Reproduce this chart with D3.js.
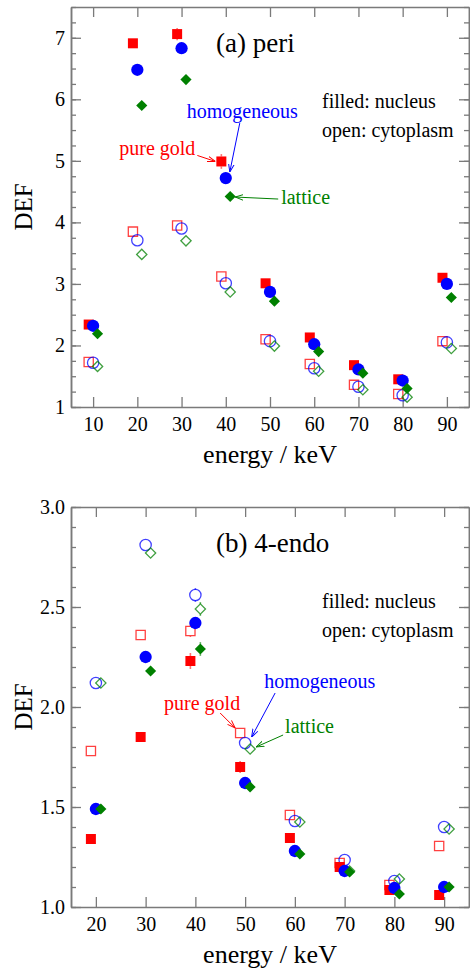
<!DOCTYPE html>
<html>
<head>
<meta charset="utf-8">
<script src="https://cdn.jsdelivr.net/npm/d3@7"></script>
<style>
  body { margin: 0; background: #fff; }
  svg { display: block; font-family: "Liberation Serif", "Times New Roman", serif; }
</style>
</head>
<body>
<svg id="chart" width="470" height="974"></svg>
<script>
// energies (keV)
var energiesPeri = [10, 20, 30, 40, 50, 60, 70, 80, 90];
var energiesEndo = [20, 30, 40, 50, 60, 70, 80, 90];

// (a) peri - nucleus (filled)
var periGoldNucleus = [2.34, 6.91, 7.06, 4.99, 3.01, 2.13, 1.68, 1.45, 3.10];
var periHomoNucleus = [2.32, 6.48, 6.83, 4.72, 2.87, 2.02, 1.61, 1.43, 3.00];
var periLatticeNucleus = [2.19, 5.90, 6.32, 4.42, 2.72, 1.90, 1.55, 1.30, 2.78];
// (a) peri - cytoplasm (open)
var periGoldCyto = [1.73, 3.85, 3.95, 3.12, 2.10, 1.70, 1.36, 1.21, 2.07];
var periHomoCyto = [1.72, 3.71, 3.90, 3.01, 2.07, 1.63, 1.33, 1.19, 2.05];
var periLatticeCyto = [1.66, 3.48, 3.70, 2.87, 1.99, 1.58, 1.28, 1.16, 1.95];

var periGoldNucleusErr = [0.03, 0.05, 0.10, 0.12, 0.06, 0.04, 0.03, 0.02, 0.05];
var periHomoNucleusErr = [0.02, 0.04, 0.06, 0.06, 0.04, 0.03, 0.02, 0.02, 0.04];
var periLatticeNucleusErr = [0.02, 0.04, 0.06, 0.06, 0.04, 0.03, 0.02, 0.02, 0.04];
var periCytoErr = [0.02, 0.03, 0.03, 0.03, 0.02, 0.02, 0.02, 0.01, 0.02];

// (b) 4-endo - nucleus (filled)
var endoGoldNucleus = [1.34, 1.85, 2.23, 1.70, 1.345, 1.20, 1.085, 1.06];
var endoHomoNucleus = [1.49, 2.25, 2.42, 1.62, 1.28, 1.18, 1.095, 1.10];
var endoLatticeNucleus = [1.49, 2.18, 2.29, 1.60, 1.265, 1.175, 1.065, 1.10];
// (b) 4-endo - cytoplasm (open)
var endoGoldCyto = [1.78, 2.36, 2.38, 1.87, 1.46, 1.22, 1.11, 1.305];
var endoHomoCyto = [2.12, 2.81, 2.56, 1.82, 1.43, 1.235, 1.13, 1.40];
var endoLatticeCyto = [2.12, 2.77, 2.49, 1.79, 1.425, 1.18, 1.14, 1.39];

var endoGoldNucleusErr = [0.01, 0.025, 0.04, 0.03, 0.025, 0.015, 0.015, 0.01];
var endoHomoNucleusErr = [0.01, 0.02, 0.03, 0.02, 0.015, 0.01, 0.01, 0.01];
var endoLatticeNucleusErr = [0.01, 0.025, 0.035, 0.02, 0.015, 0.01, 0.01, 0.01];
var endoGoldCytoErr = [0.01, 0.02, 0.03, 0.02, 0.015, 0.01, 0.01, 0.01];
var endoHomoCytoErr = [0.01, 0.02, 0.035, 0.02, 0.015, 0.01, 0.01, 0.01];
var endoLatticeCytoErr = [0.01, 0.02, 0.035, 0.02, 0.015, 0.01, 0.01, 0.01];

// ticks
var periXTicks = [10, 20, 30, 40, 50, 60, 70, 80, 90];
var periYTicks = [1, 2, 3, 4, 5, 6, 7];
var endoXTicks = [20, 30, 40, 50, 60, 70, 80, 90];
var endoYTicks = [1.0, 1.5, 2.0, 2.5, 3.0];

var RED = '#ff0000', BLUE = '#0000ff', GREEN = '#008000', AXIS = '#7a7a7a';
var LEFT = 71, RIGHT = 469;

var svg = d3.select('#chart');
var defs = svg.append('defs');
[['red', RED], ['blue', BLUE], ['green', GREEN]].forEach(function(c) {
  defs.append('marker')
    .attr('id', 'head-' + c[0])
    .attr('viewBox', '0 0 10 10')
    .attr('refX', 10).attr('refY', 5)
    .attr('markerWidth', 8).attr('markerHeight', 8)
    .attr('markerUnits', 'userSpaceOnUse')
    .attr('orient', 'auto')
    .append('path')
    .attr('d', 'M0,1.5 L10,5 L0,8.5')
    .attr('fill', 'none')
    .attr('stroke', c[1])
    .attr('stroke-width', 1.2);
});

function makeSeries(energies, gold, homo, lattice, errGold, errHomo, errLattice, filled) {
  return [
    { name: 'gold', energies: energies, values: gold, errors: errGold, color: RED, shape: 'square', dx: -1, filled: filled },
    { name: 'homo', energies: energies, values: homo, errors: errHomo, color: BLUE, shape: 'circle', dx: 0, filled: filled },
    { name: 'lattice', energies: energies, values: lattice, errors: errLattice, color: GREEN, shape: 'diamond', dx: 1, filled: filled }
  ];
}

var Panel = function(opts) {
  'use strict';
  this.opts = opts;
  this.init();
};

Panel.prototype = {
  init: function() {
    var o = this.opts;
    this.x = d3.scaleLinear().domain(o.xDomain).range([LEFT, RIGHT]);
    this.y = d3.scaleLinear().domain(o.yDomain).range([o.bottom, o.top]);
    this.main = svg.append('g');
    this.points = {};
  },

  render: function() {
    this.drawAxes();
    this.drawSeries();
    this.drawText();
    this.drawNotes();
  },

  styleAxis: function(g) {
    g.attr('font-family', null).attr('font-size', null);
    g.select('.domain').attr('stroke', AXIS).attr('stroke-width', 1.5);
    g.selectAll('.tick line').attr('stroke', AXIS).attr('stroke-width', 1.3);
    g.selectAll('.tick text').attr('fill', '#000').style('font-size', '20px');
  },

  drawAxes: function() {
    var o = this.opts, x = this.x, y = this.y, self = this;
    var minor = o.yMinor;

    var axes = [
      d3.axisLeft(y).tickValues(minor).tickSize(-5).tickSizeOuter(0).tickFormat(''),
      d3.axisRight(y).tickValues(minor).tickSize(-5).tickSizeOuter(0).tickFormat(''),
      d3.axisRight(y).tickValues(o.yTicks).tickSize(-10).tickSizeOuter(0).tickFormat(''),
      d3.axisTop(x).tickValues(o.xTicks).tickSize(-10).tickSizeOuter(0).tickFormat(''),
      d3.axisLeft(y).tickValues(o.yTicks).tickSize(-10).tickSizeOuter(0).tickPadding(6).tickFormat(o.yFormat),
      d3.axisBottom(x).tickValues(o.xTicks).tickSize(-10).tickSizeOuter(0).tickPadding(10)
    ];
    var shifts = [
      [LEFT, 0], [RIGHT, 0], [RIGHT, 0], [0, o.top], [LEFT, 0], [0, o.bottom]
    ];

    axes.forEach(function(axis, i) {
      var g = self.main.append('g')
        .attr('transform', 'translate(' + shifts[i][0] + ',' + shifts[i][1] + ')')
        .call(axis);
      self.styleAxis(g);
    });
  },

  symbolPath: function(s) {
    var size = { square: 100, circle: 118, diamond: 62 }[s.shape];
    if (!s.filled) size *= 0.85;
    var type = s.shape === 'circle' ? d3.symbolCircle : d3.symbolSquare;
    return d3.symbol().type(type).size(size)();
  },

  drawSeries: function() {
    var self = this;
    this.opts.series.forEach(function(s) {
      var pts = s.values.map(function(v, i) {
        return { e: s.energies[i] + s.dx, v: v, err: s.errors[i] };
      });
      self.points[s.name + (s.filled ? 'Filled' : 'Open')] = pts;

      // error bars, only the part sticking out of the marker
      var r = 5;
      var bars = [];
      pts.forEach(function(d) {
        var cx = self.x(d.e), cy = self.y(d.v);
        var up = self.y(d.v + d.err), down = self.y(d.v - d.err);
        if (cy - up > r) {
          bars.push({ x: cx, y1: up, y2: cy - r });
          bars.push({ x: cx, y1: cy + r, y2: down });
        }
      });

      var g = self.main.append('g');
      g.selectAll('line').data(bars).enter().append('line')
        .attr('x1', function(d) { return d.x; })
        .attr('x2', function(d) { return d.x; })
        .attr('y1', function(d) { return d.y1; })
        .attr('y2', function(d) { return d.y2; })
        .attr('stroke', s.color)
        .attr('stroke-opacity', 0.55)
        .attr('stroke-width', 1.6);

      var path = self.symbolPath(s);
      g.selectAll('path').data(pts).enter().append('path')
        .attr('d', path)
        .attr('transform', function(d) {
          return 'translate(' + self.x(d.e) + ',' + self.y(d.v) + ')' + (s.shape === 'diamond' ? ' rotate(45)' : '');
        })
        .attr('fill', s.filled ? s.color : 'none')
        .attr('stroke', s.color)
        .attr('stroke-opacity', s.filled ? 1 : 0.75)
        .attr('stroke-width', s.filled ? 0 : 1.3);
    });
  },

  drawText: function() {
    var o = this.opts, top = o.top;
    var cx = (LEFT + RIGHT) / 2;

    this.main.append('text')
      .attr('x', 216).attr('y', top + 45)
      .style('font-size', '27px')
      .text(o.title);

    this.main.append('text')
      .attr('x', 322).attr('y', top + 101)
      .style('font-size', '20px')
      .text('filled: nucleus');

    this.main.append('text')
      .attr('x', 322).attr('y', top + 130)
      .style('font-size', '20px')
      .text('open: cytoplasm');

    this.main.append('text')
      .attr('transform', 'translate(32,' + ((o.top + o.bottom) / 2) + ') rotate(-90)')
      .attr('text-anchor', 'middle')
      .style('font-size', '25px')
      .text('DEF');

    this.main.append('text')
      .attr('x', cx).attr('y', o.bottom + 56)
      .attr('text-anchor', 'middle')
      .style('font-size', '26px')
      .text('energy / keV');
  },

  drawNotes: function() {
    var self = this;
    this.opts.notes.forEach(function(n) {
      var p = self.points[n.target][n.index];
      var px = self.x(p.e), py = self.y(p.v);

      self.main.append('text')
        .attr('x', px + n.tx).attr('y', py + n.ty)
        .attr('text-anchor', n.anchor)
        .attr('fill', n.color)
        .style('font-size', '20px')
        .text(n.text);

      self.main.append('line')
        .attr('x1', px + n.a[0]).attr('y1', py + n.a[1])
        .attr('x2', px + n.a[2]).attr('y2', py + n.a[3])
        .attr('stroke', n.color)
        .attr('stroke-width', 1)
        .attr('marker-end', 'url(#head-' + n.head + ')');
    });
  }
};

var peri = new Panel({
  title: '(a) peri',
  top: 7, bottom: 407,
  xDomain: [5, 95], yDomain: [1, 7.5],
  xTicks: periXTicks, yTicks: periYTicks,
  yMinor: d3.range(4, 31).map(function(d) { return d / 4; }),
  yFormat: d3.format('d'),
  series: makeSeries(energiesPeri, periGoldCyto, periHomoCyto, periLatticeCyto, periCytoErr, periCytoErr, periCytoErr, false)
    .concat(makeSeries(energiesPeri, periGoldNucleus, periHomoNucleus, periLatticeNucleus,
      periGoldNucleusErr, periHomoNucleusErr, periLatticeNucleusErr, true)),
  notes: [
    { text: 'pure gold', target: 'goldFilled', index: 3, color: RED, head: 'red', anchor: 'end', tx: -26, ty: -6, a: [-24, -6, -6, 0] },
    { text: 'homogeneous', target: 'homoFilled', index: 3, color: BLUE, head: 'blue', anchor: 'start', tx: -39, ty: -60, a: [14, -55, 4, -6] },
    { text: 'lattice', target: 'latticeFilled', index: 3, color: GREEN, head: 'green', anchor: 'start', tx: 51, ty: 7, a: [48, 2.5, 5, 0.5] }
  ]
});
peri.render();

var endo = new Panel({
  title: '(b) 4-endo',
  top: 507, bottom: 907,
  xDomain: [15, 95], yDomain: [1, 3],
  xTicks: endoXTicks, yTicks: endoYTicks,
  yMinor: d3.range(10, 31).map(function(d) { return d / 10; }),
  yFormat: d3.format('.1f'),
  series: makeSeries(energiesEndo, endoGoldCyto, endoHomoCyto, endoLatticeCyto,
      endoGoldCytoErr, endoHomoCytoErr, endoLatticeCytoErr, false)
    .concat(makeSeries(energiesEndo, endoGoldNucleus, endoHomoNucleus, endoLatticeNucleus,
      endoGoldNucleusErr, endoHomoNucleusErr, endoLatticeNucleusErr, true)),
  notes: [
    { text: 'pure gold', target: 'goldOpen', index: 3, color: RED, head: 'red', anchor: 'end', tx: 0, ty: -23, a: [-20, -20, -5, -5] },
    { text: 'homogeneous', target: 'homoOpen', index: 3, color: BLUE, head: 'blue', anchor: 'start', tx: 19, ty: -55, a: [30, -50, 6.5, -6] },
    { text: 'lattice', target: 'latticeOpen', index: 3, color: GREEN, head: 'green', anchor: 'start', tx: 35, ty: -16, a: [33, -14, 6, -2] }
  ]
});
endo.render();
</script>
</body>
</html>
